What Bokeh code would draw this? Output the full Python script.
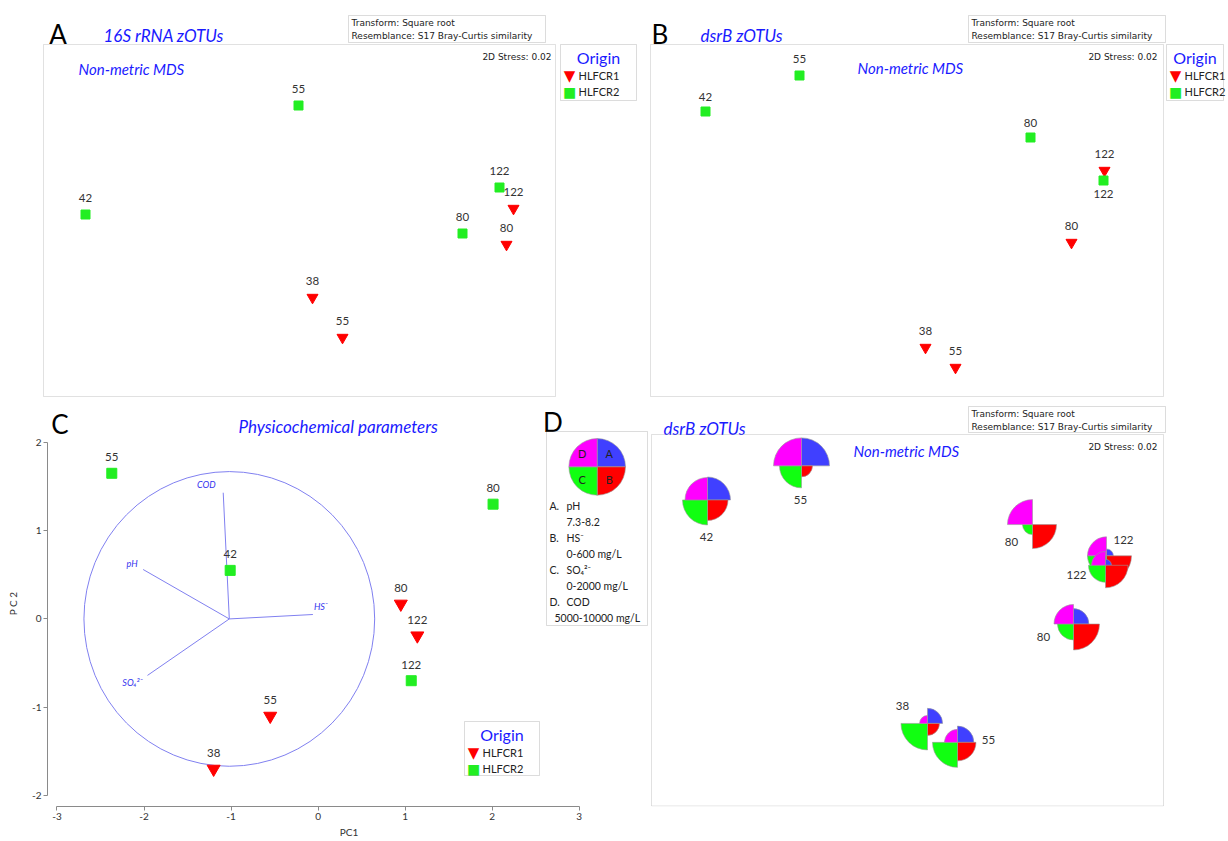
import math
from bokeh.plotting import figure
from bokeh.models import Label, BoxAnnotation, Range1d, FixedTicker, ColumnDataSource
from bokeh.layouts import row, column
from bokeh.core.properties import value
from bokeh.embed import file_html
from bokeh.resources import INLINE

# ---------------- data ----------------
samples = ["38", "55", "80", "122", "42", "55", "80", "122"]
origin = ["HLFCR1", "HLFCR1", "HLFCR1", "HLFCR1", "HLFCR2", "HLFCR2", "HLFCR2", "HLFCR2"]
origin_levels = ["HLFCR1", "HLFCR2"]

# A: non-metric MDS, 16S rRNA zOTUs
mds16s_x = [0.13, 0.43, 2.07, 2.14, -2.14, -0.01, 1.63, 2.00]
mds16s_y = [-0.77, -1.17, -0.24, 0.12, 0.06, 1.15, -0.13, 0.33]

# B and D: non-metric MDS, dsrB zOTUs
mdsdsrb_x = [0.19, 0.49, 1.65, 1.98, -2.01, -1.07, 1.24, 1.97]
mdsdsrb_y = [-1.27, -1.47, -0.22, 0.50, 1.09, 1.45, 0.83, 0.40]

# C: PCA of physicochemical parameters
pc1 = [-1.20, -0.55, 0.95, 1.14, -1.01, -2.37, 2.01, 1.07]
pc2 = [-1.70, -1.10, 0.17, -0.19, 0.55, 1.65, 1.30, -0.70]
vector_names = ["pH", "HS⁻", "SO₄²⁻", "COD"]
vector_dx = [-0.99, 0.96, -0.94, -0.07]
vector_dy = [0.56, 0.05, -0.64, 1.43]
vector_origin = [-1.02, 0.0]
circle_radius = 1.67

# D: segmented bubbles (pH, HS-, SO4 2-, COD)
ph = [7.78, 7.82, 7.79, 7.52, 8.03, 8.19, 7.30, 7.49]
hs = [254, 392, 551, 530, 435, 233, 509, 477]
so4 = [1873, 1767, 1131, 1343, 1767, 1555, 707, 1201]
cod = [6410, 7300, 8445, 8355, 8975, 9945, 9415, 7475]
param_letters = ["A", "B", "C", "D"]
param_names = ["pH", "HS⁻", "SO₄²⁻", "COD"]
param_range_text = ["7.3-8.2", "0-600 mg/L", "0-2000 mg/L", "5000-10000 mg/L"]
param_lo = [7.3, 0, 0, 5000]
param_hi = [8.2, 600, 2000, 10000]

x_ticks = [-3, -2, -1, 0, 1, 2, 3]
x_tick_labels = ["-3", "-2", "-1", "0", "1", "2", "3"]
y_ticks = [-2, -1, 0, 1, 2]
y_tick_labels = ["-2", "-1", "0", "1", "2"]

# ---------------- style ----------------
RED = "#ff0000"
GREEN = "#22ee22"
PIE_BLUE = "#4040ff"
PIE_GREEN = "#11ff11"
MAGENTA = "#ff00ff"
TITLE_BLUE = "#1a1aff"
VEC = "#8080f0"
TXT = "#333333"
BOXC = "#8a8a8a"
FONT = "Lato"
MONO = "DejaVu Sans"
RMAX = 28.3

off16s = [(0, -17)] * 8
offdsrb = [(0, -17), (0, -17), (0, -17), (0, -17), (0, -15), (0, -17), (0, -15), (0, 13)]
offpca = [(0, -16)] * 8
offpie = [(-25, -17), (31, -2), (-30, 13), (17, -16), (-1, 37), (-1, 34), (-21, 17), (-29, 10)]
vec_label_off = [(-11, -6), (8, -8), (-15, 7), (-17, -8)]


def writer(p, fl, fb):
    """Annotations placed by page pixel; fl/fb = page x of frame left, page y of frame bottom."""
    def t(px, py, text, size=11, color=TXT, font=FONT, style="normal", align="left", baseline="middle"):
        p.add_layout(Label(x=px - fl, y=fb - py, x_units="screen", y_units="screen", text=text,
                           text_font=font, text_font_size=f"{size}px", text_color=color,
                           text_font_style=style, text_align=align, text_baseline=baseline))

    def box(x0, y0, x1, y1, color=BOXC):
        p.add_layout(BoxAnnotation(left=x0 - fl, right=x1 - fl, top=fb - y0, bottom=fb - y1,
                                   left_units="screen", right_units="screen",
                                   top_units="screen", bottom_units="screen",
                                   fill_color=None, fill_alpha=0, line_color=color, line_width=1,
                                   level="overlay"))
    return t, box


def mds_fig(fx, fy, w, h, rect, xr, yr, bb=0):
    """Figure whose frame fills it (except bottom border bb); plotting rectangle `rect` (page px) carries xr/yr."""
    L, T, R, B = rect
    fb = fy + h - bb
    sx = (xr[1] - xr[0]) / (R - L)
    sy = (yr[1] - yr[0]) / (B - T)
    x_range = Range1d(xr[0] - (L - fx) * sx, xr[1] + (fx + w - R) * sx)
    y_range = Range1d(yr[0] - (fb - B) * sy, yr[1] + (T - fy) * sy)
    p = figure(width=w, height=h, x_range=x_range, y_range=y_range, title=None,
               x_axis_location=None, y_axis_location=None, toolbar_location=None,
               output_backend="svg", min_border=0, min_border_bottom=bb)
    for g in p.grid:
        g.visible = False
    p.outline_line_color = None
    t, box = writer(p, fx, fb)
    box(L, T, R, B, color="#9a9a9a")
    return p, t, box


def points(p, xs, ys, offs, tri=11, sq=9):
    for lev, marker, col, size in [("HLFCR1", "inverted_triangle", RED, tri), ("HLFCR2", "square", GREEN, sq)]:
        idx = [i for i, o in enumerate(origin) if o == lev]
        p.scatter(x=[xs[i] for i in idx], y=[ys[i] for i in idx], marker=marker, size=size,
                  fill_color=col, line_color=col)
    p.text(x=xs, y=ys, text=samples, x_offset=[o[0] for o in offs], y_offset=[o[1] for o in offs],
           text_align="center", text_baseline="middle", text_font=value(FONT),
           text_font_size="11.5px", text_color=TXT)


def origin_legend(t, box, x0, y0, x1, y1):
    box(x0, y0, x1, y1)
    t((x0 + x1) / 2, y0 + 13, "Origin", size=16, color=TITLE_BLUE, align="center")
    t(x0 + 9, y0 + 31, "▼", size=15, color=RED, font=MONO, align="center")
    t(x0 + 18, y0 + 31, origin_levels[0], size=11, color="#222222")
    t(x0 + 9, y0 + 47, "■", size=14, color=GREEN, font=MONO, align="center")
    t(x0 + 18, y0 + 47, origin_levels[1], size=11, color="#222222")


def transform_box(t, box, x0, y0, x1, y1):
    box(x0, y0, x1, y1)
    t(x0 + 3, y0 + 7, "Transform: Square root", size=9, font=MONO, color="#222222")
    t(x0 + 3, y0 + 20, "Resemblance: S17 Bray-Curtis similarity", size=9, font=MONO, color="#222222")


# ---------------- Panel A ----------------
pA, tA, bA = mds_fig(0, 0, 645, 400, (43, 44, 555, 396), (-2.56, 2.56), (-1.76, 1.76))
points(pA, mds16s_x, mds16s_y, off16s)
tA(57.5, 33, "A", size=26, color="#000000", align="center")
tA(103, 35, "16S rRNA zOTUs", size=17, color=TITLE_BLUE, style="italic")
transform_box(tA, bA, 348, 15, 545, 42)
tA(78, 68, "Non-metric MDS", size=15, color=TITLE_BLUE, style="italic")
tA(551, 56, "2D Stress: 0.02", size=9, font=MONO, color="#222222", align="right")
origin_legend(tA, bA, 560, 44, 636, 100)

# ---------------- Panel B ----------------
pB, tB, bB = mds_fig(645, 0, 581, 400, (650, 44, 1163, 396), (-2.56, 2.57), (-1.76, 1.76))
points(pB, mdsdsrb_x, mdsdsrb_y, offdsrb)
tB(659.5, 33, "B", size=26, color="#000000", align="center")
tB(700, 35, "dsrB zOTUs", size=17, color=TITLE_BLUE, style="italic")
transform_box(tB, bB, 968, 15, 1165, 42)
tB(857, 67, "Non-metric MDS", size=15, color=TITLE_BLUE, style="italic")
tB(1157, 56, "2D Stress: 0.02", size=9, font=MONO, color="#222222", align="right")
origin_legend(tB, bB, 1166, 44, 1223, 100)

# ---------------- Panel C ----------------
C_FX, C_FY, C_W, C_H = 0, 400, 650, 440
C_BL, C_BB = 47, 32
c_fl, c_fr, c_ft, c_fb = C_FX + C_BL, C_FX + C_W, C_FY, C_FY + C_H - C_BB
x0px, xscale = 317.6, 87.05
y0px, yscale = 619.5, 88.7
cx0, cx1 = (c_fl - x0px) / xscale, (c_fr - x0px) / xscale
cy0, cy1 = (y0px - c_fb) / yscale, (y0px - c_ft) / yscale
pC = figure(width=C_W, height=C_H, x_range=Range1d(cx0, cx1), y_range=Range1d(cy0, cy1),
            title=None, toolbar_location=None, output_backend="svg",
            min_border_left=C_BL, min_border_right=0, min_border_top=0, min_border_bottom=C_BB)
pC.outline_line_color = None
for g in pC.grid:
    g.visible = False
pC.xaxis.bounds = (x_ticks[0], x_ticks[-1])
pC.yaxis.bounds = (y_ticks[0], y_ticks[-1])
pC.xaxis.ticker = FixedTicker(ticks=x_ticks)
pC.yaxis.ticker = FixedTicker(ticks=y_ticks)
pC.xaxis.major_label_overrides = dict(zip(x_ticks, x_tick_labels))
pC.yaxis.major_label_overrides = dict(zip(y_ticks, y_tick_labels))
for ax in pC.axis:
    ax.axis_line_color = "#8a8a8a"
    ax.major_tick_line_color = "#8a8a8a"
    ax.minor_tick_line_color = None
    ax.major_tick_in = 0
    ax.major_tick_out = 4
    ax.major_label_standoff = 2
    ax.major_label_text_font = FONT
    ax.major_label_text_font_size = "10px"
    ax.major_label_text_color = TXT
    ax.axis_label_text_font = FONT
    ax.axis_label_text_font_style = "normal"
    ax.axis_label_text_font_size = "10px"
    ax.axis_label_text_color = TXT
pC.yaxis.axis_label = "P C 2"
pC.yaxis.axis_label_standoff = 10
pC.xaxis.axis_label = "PC1"
pC.xaxis.axis_label_standoff = 3

ox, oy = vector_origin
pC.ellipse(x=[ox], y=[oy], width=[2 * circle_radius], height=[2 * circle_radius],
           fill_color=None, line_color=VEC, line_width=1)
vx_end = [ox + d for d in vector_dx]
vy_end = [oy + d for d in vector_dy]
pC.segment(x0=[ox] * 4, y0=[oy] * 4, x1=vx_end, y1=vy_end, line_color=VEC, line_width=1)
pC.text(x=vx_end, y=vy_end, text=vector_names, x_offset=[o[0] for o in vec_label_off],
        y_offset=[o[1] for o in vec_label_off], text_align="center", text_baseline="middle",
        text_font=value(FONT), text_font_size="9px", text_font_style="italic", text_color="#3333ee")
points(pC, pc1, pc2, offpca, tri=13, sq=10)

tC, bC = writer(pC, c_fl, c_fb)
tC(59.5, 425, "C", size=26, color="#000000", align="center")
tC(238, 428, "Physicochemical parameters", size=17, color=TITLE_BLUE, style="italic")
origin_legend(tC, bC, 464, 723, 539, 777)

# key for panel D (segmented bubble legend), drawn left of D's plotting area
tC(552.5, 423, "D", size=26, color="#000000", align="center")
bC(546, 433, 647, 627)
key_px, key_py = 596.7, 466.7
key_x = cx0 + (key_px - c_fl) / (c_fr - c_fl) * (cx1 - cx0)
key_y = cy0 + (c_fb - key_py) / (c_fb - c_ft) * (cy1 - cy0)

quad_colors = [PIE_BLUE, RED, PIE_GREEN, MAGENTA]
quad_start = [0.0, 1.5 * math.pi, math.pi, 0.5 * math.pi]
quad_end = [0.5 * math.pi, 2.0 * math.pi, 1.5 * math.pi, math.pi]
pC.wedge(x=[key_x] * 4, y=[key_y] * 4, radius=[RMAX] * 4, radius_units="screen",
         start_angle=quad_start, end_angle=quad_end, fill_color=quad_colors,
         line_color="#999999", line_width=0.6)
for letter, (dx, dy) in zip(param_letters, [(12, -12), (12, 14), (-15, 14), (-15, -12)]):
    tC(key_px + dx, key_py + dy, letter, size=11, color="#222222", align="center")
ly = 507
for letter, name, rng in zip(param_letters, param_names, param_range_text):
    tC(549, ly, letter + ".", size=10.5, color="#222222")
    tC(566, ly, name, size=10.5, color="#222222")
    tC(566 if letter != "D" else 554, ly + 16, rng, size=10.5, color="#222222")
    ly += 32

# ---------------- Panel D ----------------
pD, tD, bD = mds_fig(650, 400, 576, 440, (651, 436, 1163, 807.5), (-2.57, 2.55), (-2.142, 1.762), bb=C_BB)
params = [ph, hs, so4, cod]
wx, wy, wr, ws, we, wc = [], [], [], [], [], []
for i in range(len(samples)):
    for q in range(4):
        r = RMAX * (params[q][i] - param_lo[q]) / (param_hi[q] - param_lo[q])
        if r < 0.5:
            continue
        wx.append(mdsdsrb_x[i]); wy.append(mdsdsrb_y[i]); wr.append(r)
        ws.append(quad_start[q]); we.append(quad_end[q]); wc.append(quad_colors[q])
pD.wedge(x="x", y="y", radius="r", radius_units="screen", start_angle="s", end_angle="e",
         fill_color="c", line_color="#999999", line_width=0.6,
         source=ColumnDataSource(dict(x=wx, y=wy, r=wr, s=ws, e=we, c=wc)))
pD.text(x=mdsdsrb_x, y=mdsdsrb_y, text=samples, x_offset=[o[0] for o in offpie],
        y_offset=[o[1] for o in offpie], text_align="center", text_baseline="middle",
        text_font=value(FONT), text_font_size="11.5px", text_color=TXT)
tD(663, 430, "dsrB zOTUs", size=17, color=TITLE_BLUE, style="italic")
transform_box(tD, bD, 968, 408, 1165, 434)
tD(853, 452, "Non-metric MDS", size=15, color=TITLE_BLUE, style="italic")
tD(1157, 448, "2D Stress: 0.02", size=9, font=MONO, color="#222222", align="right")

layout = column(row(pA, pB), row(pC, pD))
open("out.html", "w").write(file_html(layout, INLINE))
